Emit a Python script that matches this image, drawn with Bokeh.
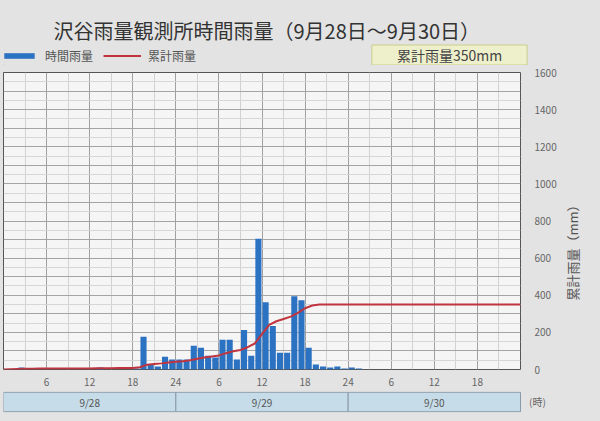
import math
from bokeh.plotting import figure
from bokeh.models import Range1d, FixedTicker, Label, Legend, LegendItem
from bokeh.layouts import column, row
from bokeh.embed import file_html
from bokeh.resources import INLINE
from bokeh.core.properties import value

FONT = "Noto Sans CJK JP"

# ---- data ----
hours = list(range(72))  # hour index from 9/28 0:00
hourly_mm = [0, 0, 1.0, 0, 0, 0, 0, 0, 0, 0, 0, 0, 0, 1.0, 0, 0, 0, 0, 0.5,
             16.5, 2.5, 1.5, 6.5, 5, 5, 5, 12, 11, 7, 6, 15, 15, 5, 20, 7, 66, 34, 22, 8.5,
             8.5, 37, 35, 11, 2.5, 1.5, 1.0, 1.5, 0.5,
             1.0, 0.5, 0, 0, 0, 0, 0, 0, 0, 0, 0, 0, 0, 0, 0, 0, 0, 0, 0, 0, 0, 0, 0, 0]
cum_hours = list(range(73))
cum_mm = [0, 2, 3, 4, 4, 5, 5, 5, 5, 5, 6, 6, 6, 7, 7, 7, 8, 8, 8,
          12, 26, 30, 33, 38, 42, 45, 50, 58, 65, 70, 76, 88, 98, 105, 120, 140, 190, 240, 260,
          272, 285, 305, 330, 345, 350,
          350, 350, 350, 350, 350, 350, 350, 350, 350, 350, 350, 350, 350, 350,
          350, 350, 350, 350, 350, 350, 350, 350, 350, 350, 350, 350, 350, 350]
x_ticks = [6, 12, 18, 24, 30, 36, 42, 48, 54, 60, 66]
x_tick_labels = ["6", "12", "18", "24", "6", "12", "18", "24", "6", "12", "18"]
y_ticks = [0, 200, 400, 600, 800, 1000, 1200, 1400, 1600]
dates = ["9/28", "9/29", "9/30"]
date_start = [0, 24, 48]
date_end = [24, 48, 72]

title_text = "沢谷雨量観測所時間雨量（9月28日～9月30日）"
total_text = "累計雨量350mm"
bar_name = "時間雨量"
line_name = "累計雨量"
y_title = "累計雨量（mm）"
hour_unit = "(時)"

W = 600
FL = 3            # frame left
FW, FH = 517, 297
RB = 35           # right border of main chart (tick labels)
BG = "#e3e3e3"
BAR_COLOR = "#2b72c2"
LINE_COLOR = "#c0343f"

# ---- header (title, legend, total box) ----
HH = 65
p0 = figure(frame_width=W, frame_height=HH, x_range=Range1d(0, W), y_range=Range1d(0, HH),
            output_backend="svg", toolbar_location=None, x_axis_type=None, y_axis_type=None,
            min_border=0)
p0.border_fill_color = BG
p0.background_fill_color = BG
p0.outline_line_color = None
p0.grid.visible = False
# legend-only renderers, placed outside the visible range
dummy_bar = p0.vbar(x=[-100], top=[1], width=1, fill_color=BAR_COLOR, line_color=None)
dummy_line = p0.line(x=[-100, -99], y=[1, 1], line_color=LINE_COLOR, line_width=2)
legend = Legend(items=[LegendItem(label=bar_name, renderers=[dummy_bar]),
                       LegendItem(label=line_name, renderers=[dummy_line])],
                location=(0, 1), orientation="horizontal",
                glyph_width=38, glyph_height=7, label_height=12, label_standoff=7, spacing=10,
                padding=0, margin=0, background_fill_alpha=0, border_line_color=None,
                label_text_font=FONT, label_text_font_size="12px", label_text_color="#555555")
p0.add_layout(legend)
p0.add_layout(Label(x=50, y=HH - 30, x_units="screen", y_units="screen", text=title_text,
                    text_font=FONT, text_font_size="20px", text_color="#333333",
                    text_baseline="middle"))
p0.add_layout(Label(x=446, y=HH - 54.5, x_units="screen", y_units="screen", text=total_text,
                    text_font=FONT, text_font_size="14px", text_color="#444444",
                    text_align="center", text_baseline="middle",
                    background_fill_color="#eef0cc", border_line_color="#c9cc8a",
                    padding=dict(left=25, right=25, top=0, bottom=0)))

# ---- main chart ----
p = figure(frame_width=FW, frame_height=FH, x_range=Range1d(0, 72), y_range=Range1d(0, 1600),
           output_backend="svg", toolbar_location=None, y_axis_location="right",
           min_border_left=FL, min_border_top=7, min_border_bottom=0, min_border_right=RB)
p.extra_y_ranges = {"hourly": Range1d(0, 150)}
p.border_fill_color = BG
p.background_fill_color = "#f5f5f5"
p.outline_line_color = "#555555"

p.xgrid.ticker = FixedTicker(ticks=[0, 6, 12, 18, 24, 30, 36, 42, 48, 54, 60, 66, 72],
                             minor_ticks=[3, 9, 15, 21, 27, 33, 39, 45, 51, 57, 63, 69])
p.xgrid.grid_line_color = "#a0a0a0"
p.xgrid.minor_grid_line_color = "#d2d2d2"
p.ygrid.ticker = FixedTicker(ticks=list(range(0, 1601, 100)), minor_ticks=list(range(50, 1600, 100)))
p.ygrid.grid_line_color = "#a4a4a4"
p.ygrid.minor_grid_line_color = "#d6d6d6"

p.xaxis.ticker = FixedTicker(ticks=x_ticks)
p.xaxis.major_label_overrides = {t: s for t, s in zip(x_ticks, x_tick_labels)}
p.yaxis.ticker = FixedTicker(ticks=y_ticks)
for ax in (p.xaxis, p.yaxis):
    ax.axis_line_color = None
    ax.major_tick_line_color = None
    ax.minor_tick_line_color = None
    ax.major_label_text_font = FONT
    ax.major_label_text_font_size = "10px"
    ax.major_label_text_color = "#666666"
p.xaxis.major_label_standoff = 2
p.yaxis.major_label_standoff = 8

p.vbar(x=[h + 0.5 for h in hours], top=hourly_mm, width=0.85, y_range_name="hourly",
       fill_color=BAR_COLOR, line_color=None)
p.line(cum_hours, cum_mm, line_color=LINE_COLOR, line_width=2)

# ---- side strip carrying the right axis title ----
SW = W - FL - FW - RB
SH = 320
ps = figure(frame_width=SW, frame_height=SH, x_range=Range1d(0, 1), y_range=Range1d(0, 1),
            output_backend="svg", toolbar_location=None, x_axis_type=None, y_axis_type=None,
            min_border=0)
ps.border_fill_color = BG
ps.background_fill_color = BG
ps.outline_line_color = None
ps.grid.visible = False
ps.add_layout(Label(x=13, y=SH - 177, x_units="screen", y_units="screen", text=y_title,
                    angle=math.pi / 2, text_font=FONT, text_font_size="13px",
                    text_color="#555555", text_align="center", text_baseline="middle"))

# ---- date band ----
BW = W - FL
p2 = figure(frame_width=BW, frame_height=21,
            x_range=Range1d(0, 72 * BW / FW), y_range=Range1d(-0.04, 1.04),
            output_backend="svg", toolbar_location=None, x_axis_type=None, y_axis_type=None,
            min_border_left=FL, min_border_top=3, min_border_bottom=12, min_border_right=0)
p2.border_fill_color = BG
p2.background_fill_color = BG
p2.outline_line_color = None
p2.grid.visible = False
p2.quad(left=date_start, right=date_end, bottom=0, top=1, fill_color="#c6dce8",
        line_color="#8a9aa8")
p2.text(x=[(s + e) / 2 for s, e in zip(date_start, date_end)], y=[0.5] * 3, text=dates,
        text_font=value(FONT), text_font_size="10px", text_color="#555555",
        text_align="center", text_baseline="middle")
p2.add_layout(Label(x=534, y=11, x_units="screen", y_units="screen", text=hour_unit,
                    text_font=FONT, text_font_size="10px", text_color="#666666",
                    text_align="center", text_baseline="middle"))

layout = column(p0, row(p, ps, spacing=0), p2, spacing=0)
html = file_html(layout, INLINE)
html = html.replace("</head>", "<style>html, body { background: %s; }</style></head>" % BG, 1)
open("out.html", "w").write(html)
